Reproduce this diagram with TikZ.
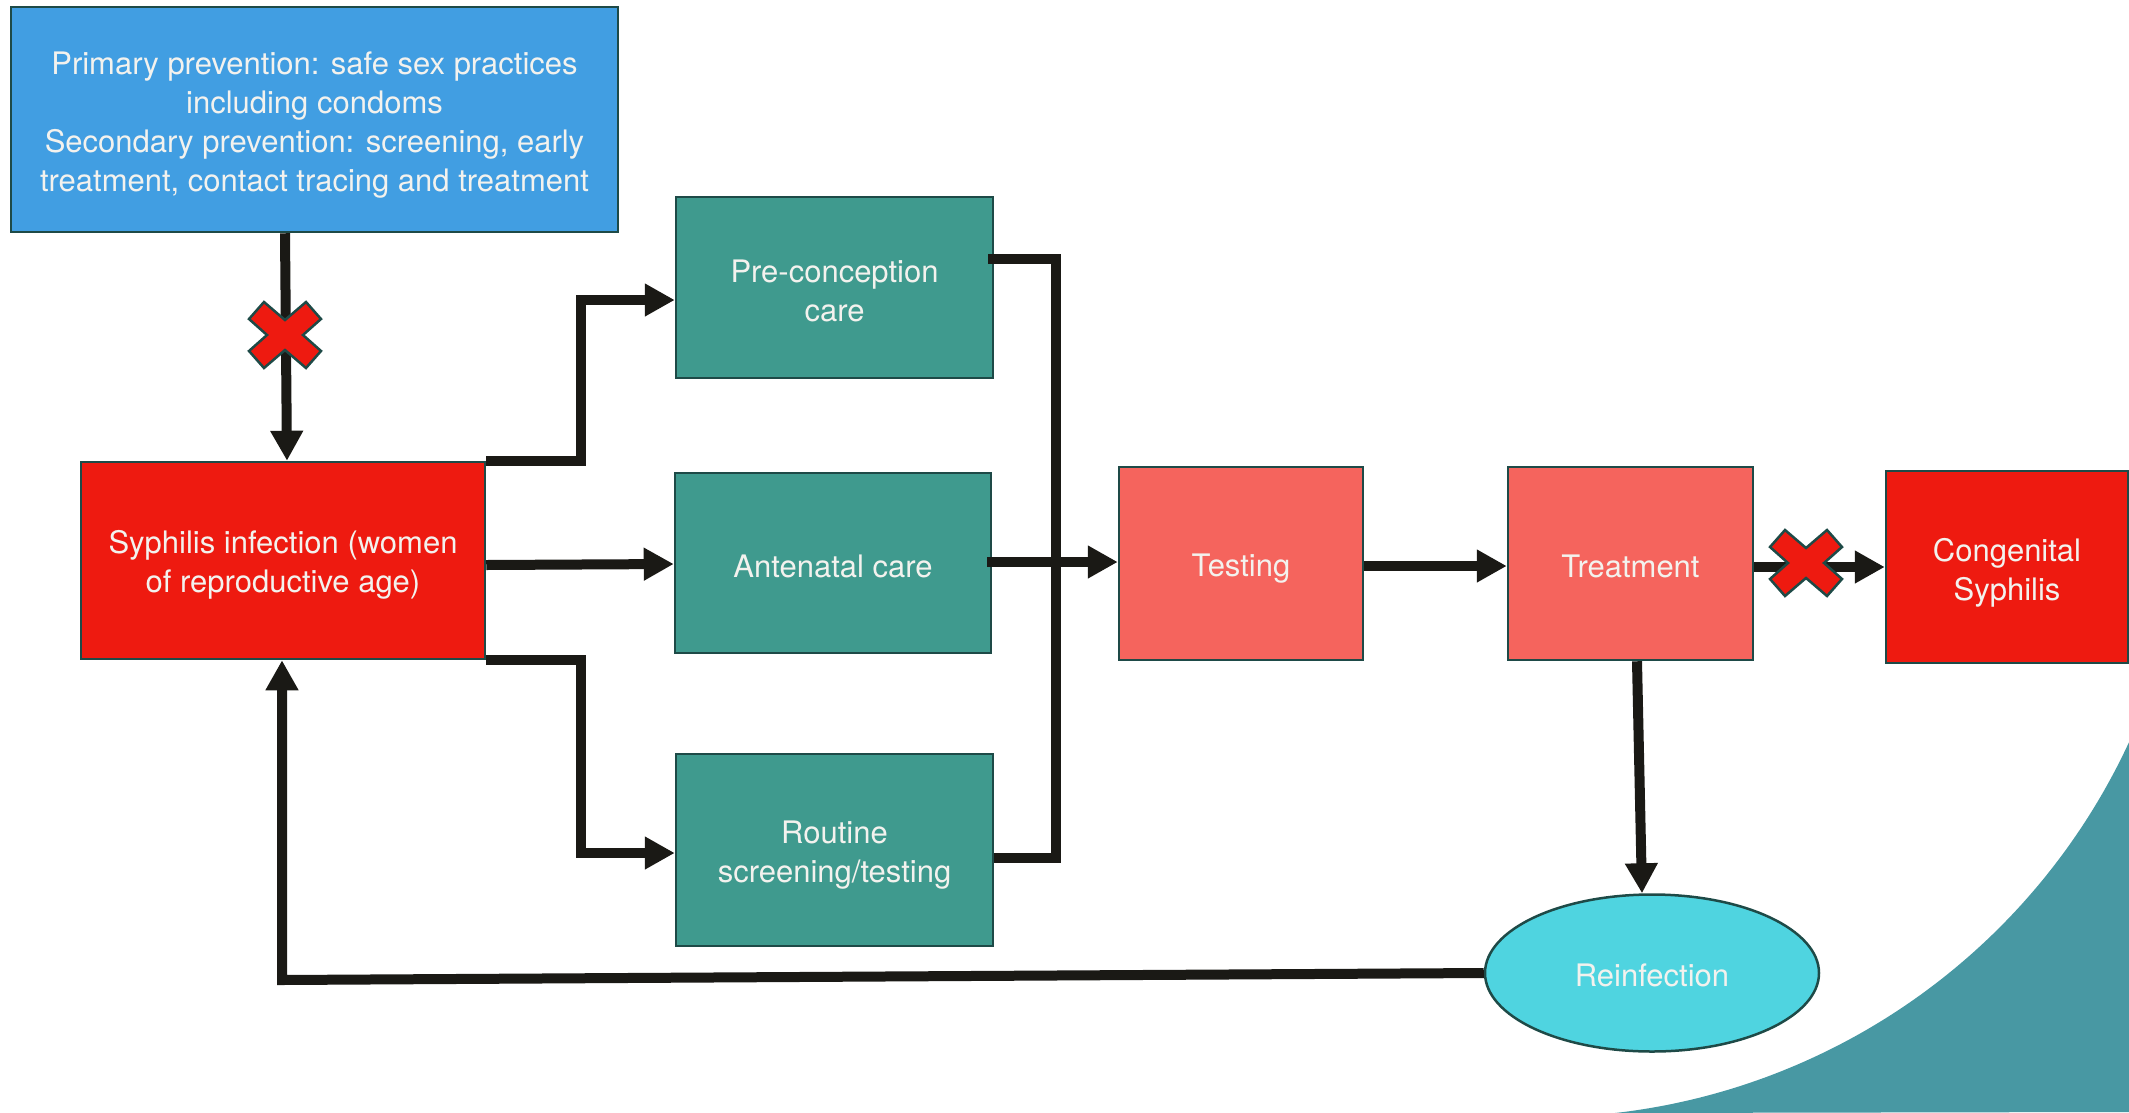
\documentclass[tikz,border=0pt]{standalone}
\usepackage{fontspec}
\setmainfont{TeX Gyre Heros}
\usetikzlibrary{arrows.meta,shapes.geometric}
\definecolor{bluebox}{HTML}{419EE2}
\definecolor{redbox}{HTML}{EE1A10}
\definecolor{tealbox}{HTML}{3F9A8E}
\definecolor{salmon}{HTML}{F5645D}
\definecolor{cyanell}{HTML}{4FD4E0}
\definecolor{cornerteal}{HTML}{4898A3}
\definecolor{edge}{HTML}{1E4A47}
\definecolor{connc}{HTML}{1A1915}
\definecolor{txt}{HTML}{F3F2EE}
\begin{document}
\begin{tikzpicture}[x=1pt,y=-1pt,
  box/.style={draw=edge, line width=2.5pt, rectangle, inner sep=0pt},
  lbl/.style={text=txt, align=center, font=\fontsize{31}{39}\selectfont, inner sep=0pt},
  conn/.style={draw=connc, line width=10pt},
  arr/.style={conn, -{Triangle[length=30pt,width=31pt]}},
  xmark/.style={fill=redbox, draw=edge, line width=2.5pt, line join=miter}]
\useasboundingbox (0,0) rectangle (2129,1112);
\fill[cornerteal] plot[domain=24:83.5, samples=80] ({1541.8+647.3*cos(\x)},{469.9+647.3*sin(\x)}) -- (2129,1112) -- cycle;

\node[box, fill=bluebox, minimum width=607pt, minimum height=225pt,
  label={[lbl,yshift=-6pt]center:{Primary prevention: safe sex practices\\including condoms\\Secondary prevention: screening, early\\treatment, contact tracing and treatment}}] (prev) at (314.5,119.5) {};
\node[box, fill=redbox, minimum width=404pt, minimum height=197pt,
  label={[lbl,yshift=-4pt]center:{Syphilis infection (women\\of reproductive age)}}] (syph) at (283,560.5) {};
\node[box, fill=tealbox, minimum width=317pt, minimum height=181pt,
  label={[lbl,yshift=-3pt]center:{Pre-conception\\care}}] (pre) at (834.5,287.5) {};
\node[box, fill=tealbox, minimum width=316pt, minimum height=180pt,
  label={[lbl,yshift=-3pt]center:{Antenatal care}}] (ante) at (833,563) {};
\node[box, fill=tealbox, minimum width=317pt, minimum height=192pt,
  label={[lbl,yshift=-5pt]center:{Routine\\screening/testing}}] (rout) at (834.5,850) {};
\node[box, fill=salmon, minimum width=244pt, minimum height=193pt,
  label={[lbl,yshift=-5pt]center:{Testing}}] (test) at (1241,563.5) {};
\node[box, fill=salmon, minimum width=245pt, minimum height=193pt,
  label={[lbl,yshift=-3pt]center:{Treatment}}] (treat) at (1630.5,563.5) {};
\node[box, fill=redbox, minimum width=242pt, minimum height=192pt,
  label={[lbl,yshift=-6pt]center:{Congenital\\Syphilis}}] (cong) at (2007,567) {};
\node[box, ellipse, fill=cyanell, minimum width=334pt, minimum height=157pt,
  label={[lbl,yshift=-2pt]center:{Reinfection}}] (reinf) at (1652,973) {};

\coordinate (jn) at (1056,858);
\coordinate (lc) at (282,980);

\draw[arr] ([xshift=-29.5pt]prev.south) -- ([xshift=4pt]syph.north);
\draw[arr] (syph.north east) -- ++(95,0) |- ([yshift=-12.5pt]pre.west);
\draw[arr] ([yshift=-4.5pt]syph.east) -- ([yshift=-1pt]ante.west);
\draw[arr] (syph.south east) -- ++(95,0) |- ([yshift=-3pt]rout.west);
\draw[conn] ([xshift=-6pt,yshift=28.5pt]pre.east) -| (jn) -- ([yshift=-8pt]rout.east);
\draw[arr] ([xshift=-5pt,yshift=1pt]ante.east) -- ([yshift=1.5pt]test.west);
\draw[arr] ([yshift=-2.5pt]test.east) -- ([yshift=-2.5pt]treat.west);
\draw[arr] ([yshift=-3.5pt]treat.east) -- (cong.west);
\draw[arr] ([xshift=6.5pt]treat.south) -- ([xshift=-10pt]reinf.north);
\draw[arr] (reinf.west) -- (lc) -- ([xshift=-1pt]syph.south);

\draw[xmark, shift={(285,335)}] (0,-15) -- (21,-33) -- (36,-16) -- (18,0) -- (36,16) -- (21,33) -- (0,15) -- (-21,33) -- (-36,16) -- (-18,0) -- (-36,-16) -- (-21,-33) -- cycle;
\draw[xmark, shift={(1806,563)}] (0,-15) -- (21,-33) -- (36,-16) -- (18,0) -- (36,16) -- (21,33) -- (0,15) -- (-21,33) -- (-36,16) -- (-18,0) -- (-36,-16) -- (-21,-33) -- cycle;
\end{tikzpicture}
\end{document}
